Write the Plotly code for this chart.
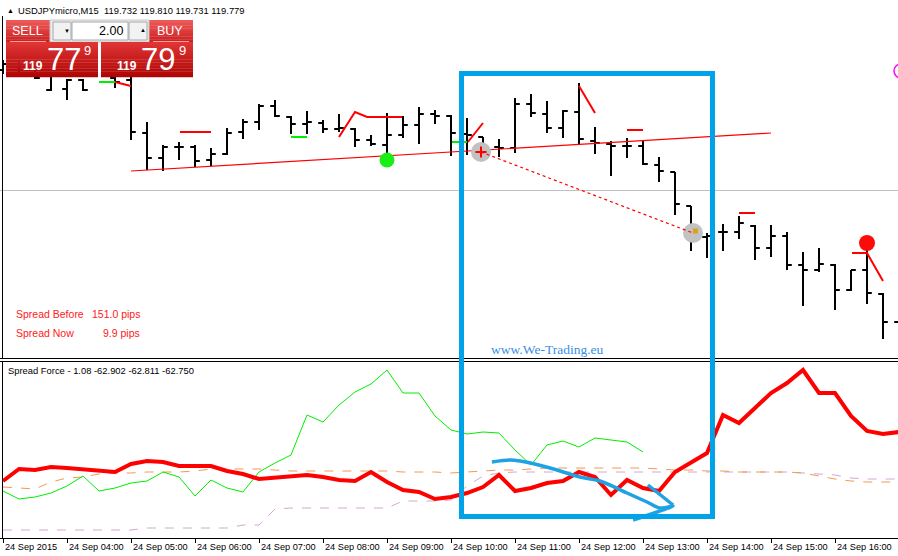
import plotly.graph_objects as go

W, H = 898, 556

# ---------------- data (USDJPYmicro, M15, 15-minute bars from 24 Sep 2015 03:00) ----------------
bar_idx = list(range(57))
bar_open = [120.020, 120.032, 120.010, 119.980, 119.982, 120.000, 120.088, 120.004, 120.000, 119.894,
            119.844, 119.866, 119.866, 119.840, 119.852, 119.896, 119.916, 119.948, 119.926, 119.912,
            119.914, 119.902, 119.902, 119.880, 119.870, 119.890, 119.910, 119.932, 119.928, 119.892,
            119.886, 119.866, 119.864, 119.952, 119.932, 119.904, 119.936, 119.878, 119.872, 119.868,
            119.868, 119.830, 119.816, 119.748, 119.686, 119.696, 119.696, 119.708, 119.664, 119.688,
            119.630, 119.620, 119.630, 119.580, 119.620, 119.572, 119.516]
bar_high = [120.040, 120.036, 120.020, 120.016, 120.002, 120.002, 120.108, 120.010, 120.008, 119.916,
            119.870, 119.876, 119.870, 119.864, 119.904, 119.922, 119.952, 119.960, 119.928, 119.938,
            119.920, 119.932, 119.904, 119.890, 119.934, 119.928, 119.946, 119.940, 119.930, 119.924,
            119.886, 119.882, 119.964, 119.972, 119.958, 119.940, 119.994, 119.906, 119.878, 119.884,
            119.880, 119.846, 119.816, 119.748, 119.694, 119.712, 119.728, 119.710, 119.710, 119.696,
            119.656, 119.664, 119.632, 119.620, 119.662, 119.574, 119.540]
bar_low = [120.012, 120.012, 120.002, 119.978, 119.960, 119.978, 120.080, 119.984, 119.880, 119.820,
           119.818, 119.840, 119.826, 119.828, 119.850, 119.882, 119.900, 119.926, 119.892, 119.892,
           119.894, 119.896, 119.866, 119.868, 119.840, 119.884, 119.872, 119.912, 119.848, 119.850,
           119.848, 119.846, 119.854, 119.926, 119.894, 119.884, 119.872, 119.852, 119.808, 119.844,
           119.830, 119.796, 119.730, 119.658, 119.644, 119.658, 119.682, 119.640, 119.646, 119.620,
           119.548, 119.616, 119.540, 119.578, 119.552, 119.482, 119.500]
bar_close = [120.032, 120.020, 120.004, 120.012, 120.000, 119.980, 120.100, 119.996, 119.896, 119.844,
             119.866, 119.866, 119.838, 119.852, 119.894, 119.916, 119.948, 119.928, 119.912, 119.916,
             119.902, 119.904, 119.880, 119.872, 119.890, 119.910, 119.932, 119.928, 119.894, 119.890,
             119.868, 119.864, 119.952, 119.934, 119.904, 119.938, 119.882, 119.874, 119.868, 119.868,
             119.832, 119.818, 119.752, 119.686, 119.688, 119.696, 119.714, 119.664, 119.688, 119.630,
             119.620, 119.632, 119.580, 119.620, 119.574, 119.516, 119.524]

tick_idx = [0, 4, 8, 12, 16, 20, 24, 28, 32, 36, 40, 44, 48, 52]
tick_labels = ["24 Sep 2015", "24 Sep 04:00", "24 Sep 05:00", "24 Sep 06:00", "24 Sep 07:00",
               "24 Sep 08:00", "24 Sep 09:00", "24 Sep 10:00", "24 Sep 11:00", "24 Sep 12:00",
               "24 Sep 13:00", "24 Sep 14:00", "24 Sep 15:00", "24 Sep 16:00"]

bid_price = 119.779
price_range = [119.444, 120.160]

# trend line and projection
trend_x = [8, 48]
trend_y = [119.818, 119.894]
proj_x = [29.875, 43.125]
proj_y = [119.856, 119.694]

# small indicator marks on price chart
red_seg_x = [7, 8, None, 11.06, 13, None, 21, 22, 22.75, 24.94, None, 29.06, 30, None,
             36, 37, None, 39, 40, None, 46, 47, None, 53.06, 54, 55]
red_seg_y = [119.996, 119.988, None, 119.896, 119.896, None, 119.886, 119.936, 119.926, 119.926, None,
             119.876, 119.914, None, 119.988, 119.934, None, 119.900, 119.900, None,
             119.734, 119.734, None, 119.654, 119.654, 119.598]
green_seg_x = [6, 7, None, 18, 19, None, 28.06, 29]
green_seg_y = [119.996, 119.996, None, 119.886, 119.886, None, 119.876, 119.876]
buy_signal = (24, 119.840)
sell_signal = (54, 119.674)

# Spread Force indicator
ind_red = [28.5, 34.5, 34, 35.5, 35, 34.5, 33.5, 33, 37, 38.5, 38, 36, 36, 36, 33.5, 32, 29.5, 30, 31,
           31.5, 30.5, 29, 28.5, 33, 28, 24, 23, 19.5, 20.5, 22.5, 25.5, 31.5, 23.5, 25, 27.5, 28.5,
           33, 30.5, 21.5, 29, 25, 23.5, 33, 38, 42.5, 61.5, 57.5, 65, 72.5, 77.5, 84, 72.5, 72.5,
           61, 53.5, 52, 53]
ind_green = [23.5, 19.5, 20.5, 22.5, 26, 31, 23.5, 25, 27.5, 28.5, 33, 30.5, 21, 29, 25, 23, 33, 37.5,
             41.5, 61.5, 58, 66.5, 73, 77, 84, 72.5, 72.5, 61, 54, 52, 53, 52.5, 44, 36.5, 46.5, 48.5,
             45.5, 50, 49, 48, 43]
ind_orange = [25.5, 25, 24.5, 28, 30, 30.5, 32, 32.5, 32.5, 33, 33, 33, 33.5, 34.5, 34.5, 34.5, 34.5,
              34, 33.5, 33.5, 33.5, 33.5, 33.5, 33.5, 33.5, 33, 33, 33, 32.5, 33, 33.5, 34, 34, 34.5,
              35, 35, 35, 35, 35, 35, 35, 34.5, 34, 34, 33.5, 33.5, 33, 33, 33, 33, 32.5, 31, 29.5,
              28.5, 28, 28, 28]
ind_lav = [4, 4, 4, 4, 4, 4, 4, 4, 4, 5, 5, 5, 5, 5, 5, 6.5, 6.5, 14.5, 15, 15, 15, 15, 15, 15, 15,
           18.5, 18.5, 18.5, 19, 26, 31, 32.5, 33, 33, 33, 33, 33, 33, 33, 33, 33, 33, 33, 33, 33, 33,
           33, 33, 33, 33, 32.5, 32, 31.5, 30, 29.5, 29.5, 29.5]
ind_range = [0, 88]

# hand-drawn highlight (blue pen stroke)
pen_x = [30.56, 31.69, 32.31, 34.19, 36.06, 37.31, 39.0, 40.25, 41.06, 41.88, 40.88, 39.38]
pen_y = [38, 39, 38.5, 35, 30.5, 28.5, 22.5, 18, 15, 16, 13, 9]
hook_x = [40.31, 41.1, 41.88]
hook_y = [26.5, 21.5, 16.5]

# ---------------- helpers (pixel -> paper) ----------------
def X(px):
    return px / W


def Y(py):
    return 1 - py / H


XR = [-3 / 16, 895 / 16]
FONT = "Liberation Sans"

fig = go.Figure()

fig.add_trace(go.Ohlc(x=bar_idx, open=bar_open, high=bar_high, low=bar_low, close=bar_close,
                      increasing=dict(line=dict(color="black", width=2)),
                      decreasing=dict(line=dict(color="black", width=2)),
                      tickwidth=0.3, xaxis="x", yaxis="y", hoverinfo="skip"))

fig.add_trace(go.Scatter(x=trend_x, y=trend_y, mode="lines", line=dict(color="#ff0000", width=1.2),
                         xaxis="x", yaxis="y"))
fig.add_trace(go.Scatter(x=proj_x, y=proj_y, mode="markers", marker=dict(size=20, color="#c2c2c2"),
                         xaxis="x", yaxis="y"))
fig.add_trace(go.Scatter(x=proj_x, y=proj_y, mode="lines", line=dict(color="#ff0000", width=1.2, dash="dot"),
                         xaxis="x", yaxis="y"))
fig.add_trace(go.Scatter(x=[proj_x[0]], y=[proj_y[0]], mode="markers",
                         marker=dict(symbol="cross-thin", size=8, line=dict(color="#ff0000", width=2)),
                         xaxis="x", yaxis="y"))
fig.add_trace(go.Scatter(x=[proj_x[1] + 0.15], y=[proj_y[1] + 0.004], mode="markers",
                         marker=dict(symbol="square", size=5, color="#d9a21b"), xaxis="x", yaxis="y"))
fig.add_trace(go.Scatter(x=green_seg_x, y=green_seg_y, mode="lines", line=dict(color="#00ee00", width=2),
                         connectgaps=False, xaxis="x", yaxis="y"))
fig.add_trace(go.Scatter(x=red_seg_x, y=red_seg_y, mode="lines", line=dict(color="#ff0000", width=2),
                         connectgaps=False, xaxis="x", yaxis="y"))
fig.add_trace(go.Scatter(x=[buy_signal[0]], y=[buy_signal[1]], mode="markers",
                         marker=dict(size=15, color="#19ee19", line=dict(width=0)), xaxis="x", yaxis="y"))
fig.add_trace(go.Scatter(x=[sell_signal[0]], y=[sell_signal[1]], mode="markers",
                         marker=dict(size=16, color="#ff0a0a", line=dict(width=0)), xaxis="x", yaxis="y"))

# indicator window
fig.add_trace(go.Scatter(x=bar_idx, y=ind_lav, mode="lines", line=dict(color="#d2a8d2", width=1, dash="dash"),
                         xaxis="x2", yaxis="y2"))
fig.add_trace(go.Scatter(x=bar_idx, y=ind_orange, mode="lines", line=dict(color="#f29a50", width=1, dash="dash"),
                         xaxis="x2", yaxis="y2"))
fig.add_trace(go.Scatter(x=bar_idx[:len(ind_green)], y=ind_green, mode="lines",
                         line=dict(color="#00ee00", width=1), xaxis="x2", yaxis="y2"))
fig.add_trace(go.Scatter(x=bar_idx, y=ind_red, mode="lines", line=dict(color="#ff0000", width=4),
                         xaxis="x2", yaxis="y2"))
fig.add_trace(go.Scatter(x=pen_x, y=pen_y, mode="lines", line=dict(color="#1ea2e4", width=3.5, shape="spline"),
                         xaxis="x2", yaxis="y2"))
fig.add_trace(go.Scatter(x=hook_x, y=hook_y, mode="lines", line=dict(color="#1ea2e4", width=3.5),
                         xaxis="x2", yaxis="y2"))

shapes = []


def line(x0, y0, x1, y1, color="black", width=1, layer="above"):
    shapes.append(dict(type="line", xref="paper", yref="paper", x0=X(x0), y0=Y(y0), x1=X(x1), y1=Y(y1),
                       line=dict(color=color, width=width), layer=layer))


def rect(x0, y0, x1, y1, fill, border=None, bw=1):
    shapes.append(dict(type="rect", xref="paper", yref="paper", x0=X(x0), y0=Y(y0), x1=X(x1), y1=Y(y1),
                       fillcolor=fill, line=dict(color=border or fill, width=bw if border else 0),
                       layer="above"))


def grad_rect(x0, y0, x1, y1, top, bot, n=10):
    h = (y1 - y0) / n
    for i in range(n):
        t = i / (n - 1)
        c = tuple(round(top[j] + (bot[j] - top[j]) * t) for j in range(3))
        rect(x0, y0 + i * h, x1, y0 + (i + 1) * h + 0.3, "rgb(%d,%d,%d)" % c)


# bid line
shapes.append(dict(type="line", xref="paper", yref="y", x0=0, x1=1, y0=bid_price, y1=bid_price,
                   line=dict(color="#c0c0c0", width=1), layer="below"))

# window borders
line(2.5, 16, 2.5, 358.5)
line(0, 358.5, W, 358.5)
line(0, 361.5, W, 361.5)
line(2.5, 361.5, 2.5, 538.5)
line(0, 538.5, W, 538.5)

# one-click trading panel
grad_rect(6, 20, 50, 42, (236, 88, 88), (206, 34, 34), 8)
grad_rect(149, 20, 193, 42, (236, 88, 88), (206, 34, 34), 8)
line(10, 41.5, 46, 41.5, "#f3a0a0", 1)
line(153, 41.5, 189, 41.5, "#f3a0a0", 1)
rect(50, 20, 149, 42, "#ececec", "#c8c8c8")
rect(53, 22, 71, 40, "#f2f2f2", "#a8a8a8")
rect(72, 22, 128, 40, "#ffffff", "#a8a8a8")
rect(129, 22, 147, 40, "#f2f2f2", "#a8a8a8")
grad_rect(6, 42, 98, 77, (222, 52, 52), (176, 6, 6), 12)
grad_rect(101, 42, 193, 77, (222, 52, 52), (176, 6, 6), 12)

# magenta object at the right edge
shapes.append(dict(type="circle", xref="paper", yref="paper", x0=X(894), x1=X(908), y0=Y(64), y1=Y(78),
                   line=dict(color="#ff00ff", width=1.5), layer="above"))

# blue highlight box
shapes.append(dict(type="rect", xref="paper", yref="paper", x0=X(461.5), x1=X(712.5), y0=Y(73.5), y1=Y(516.5),
                   line=dict(color="#00a2e8", width=5), fillcolor="rgba(0,0,0,0)", layer="above"))

annotations = []


def text(t, x, y, size, color="black", xanchor="left", family=FONT):
    annotations.append(dict(text=t, xref="paper", yref="paper", x=X(x), y=Y(y), xanchor=xanchor,
                            yanchor="middle", showarrow=False, font=dict(family=family, size=size, color=color)))


text("▲", 5, 10, 7)
text("USDJPYmicro,M15&nbsp; 119.732 119.810 119.731 119.779", 16, 10, 9.4)
text("SELL", 27.5, 31, 12.5, "white", "center")
text("BUY", 170, 31, 12.5, "white", "center")
text("2.00", 125, 31, 12.5, "black", "right")
text("▼", 62, 31, 6)
text("▲", 138, 30, 6)
for xs, big in ((20.5, "77"), (115, "79")):
    text("<b>119</b>", xs, 66, 12, "white")
    text(big, xs + 24, 59.5, 31, "white")
    text("9", xs + 61.5, 51, 13, "white")

text("Spread Before", 14, 314, 10.5, "#ff2020")
text("151.0 pips", 142, 314, 10.5, "#ff2020", "right")
text("Spread Now", 14, 333, 10.5, "#ff2020")
text("9.9 pips", 142, 333, 10.5, "#ff2020", "right")
text("www.We-Trading.eu", 489, 349, 13.5, "#3a8fe6", "left", "Liberation Serif")
text("Spread Force - 1.08 -62.902 -62.811 -62.750", 6, 370, 9.4)

for k, lab in zip(tick_idx, tick_labels):
    annotations.append(dict(text=lab, xref="x2", yref="paper", x=k, y=Y(547), xanchor="left", yanchor="middle",
                            xshift=0, showarrow=False, font=dict(family=FONT, size=9.2, color="black")))

axis_common = dict(showgrid=False, zeroline=False, showticklabels=False, showline=False, fixedrange=True)

fig.update_layout(
    width=W, height=H, margin=dict(l=0, r=0, t=0, b=0),
    paper_bgcolor="white", plot_bgcolor="white", showlegend=False,
    xaxis=dict(domain=[0, 1], range=XR, anchor="y", rangeslider=dict(visible=False), **axis_common),
    yaxis=dict(domain=[1 - 358 / H, 1], range=price_range, anchor="x", **axis_common),
    xaxis2=dict(domain=[0, 1], range=XR, anchor="y2", ticks="outside", ticklen=4, tickcolor="black",
                tickvals=tick_idx, showgrid=False, zeroline=False, showticklabels=False, showline=False),
    yaxis2=dict(domain=[(H - 538) / H, (H - 362) / H], range=ind_range, anchor="x2", **axis_common),
    shapes=shapes, annotations=annotations,
)

fig.write_html("out.html", config={"displayModeBar": False},
               post_script="document.body.style.margin='0';document.body.style.overflow='hidden';")
